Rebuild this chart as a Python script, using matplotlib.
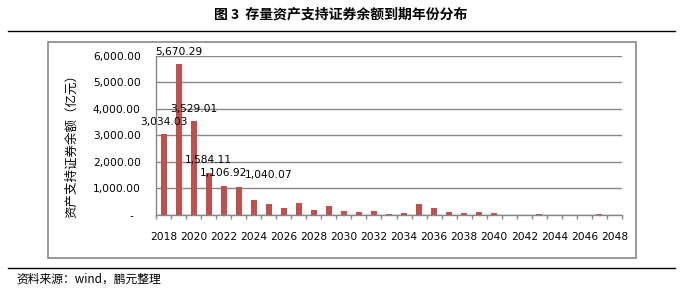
import matplotlib.pyplot as plt
import matplotlib as mpl
from matplotlib.ticker import FixedLocator, FuncFormatter
from matplotlib.lines import Line2D
from matplotlib.patches import Rectangle

mpl.rcParams['font.family'] = ['DejaVu Sans', 'Noto Sans CJK SC']

# maturity years and outstanding ABS balance (100m CNY)
years = list(range(2018, 2049))
balance = [3034.03, 5670.29, 3529.01, 1584.11, 1106.92, 1040.07, 565, 400, 276, 464,
           188, 351, 150, 113, 150, 50, 75, 414, 263, 113,
           75, 113, 75, 0, 0, 38, 0, 0, 0, 38, 0]
labelled_years = [2018, 2019, 2020, 2021, 2022, 2023]
yticks = [0, 1000, 2000, 3000, 4000, 5000, 6000]

title = '图 3  存量资产支持证券余额到期年份分布'
ylabel = '资产支持证券余额（亿元）'
source = '资料来源：wind，鹏元整理'

bar_color = '#C0504D'
grid_color = '#878787'

fig = plt.figure(figsize=(6.83, 2.88), dpi=100)
ax = fig.add_axes([156 / 683, 73 / 288, 466 / 683, 159.3 / 288])

x = list(range(len(years)))
ax.bar(x, balance, width=0.4, color=bar_color, zorder=3)

ax.set_xlim(-0.5, len(years) - 0.5)
ax.set_ylim(0, 6000)

# y axis
ax.set_yticks(yticks)
ax.yaxis.set_major_formatter(FuncFormatter(lambda v, p: '-  ' if v == 0 else f'{v:,.2f}'))
ax.tick_params(axis='y', length=0, pad=11, labelsize=7.7)
ax.grid(axis='y', color=grid_color, linewidth=1, zorder=0)

# x axis: labels every other year, tick marks at category borders
ax.set_xticks(x[::2])
ax.set_xticklabels([str(y) for y in years[::2]])
ax.xaxis.set_minor_locator(FixedLocator([i - 0.5 for i in range(len(years) + 1)]))
ax.tick_params(axis='x', which='major', length=0, pad=12, labelsize=7.7)
ax.tick_params(axis='x', which='minor', length=3, color=grid_color, width=1)

for s in ['top', 'right']:
    ax.spines[s].set_visible(False)
for s in ['left', 'bottom']:
    ax.spines[s].set_color(grid_color)
    ax.spines[s].set_linewidth(1)
    ax.spines[s].set_zorder(4)

# data labels; the 2023 label sits two categories to the right like in the source
for yr in labelled_years:
    i = years.index(yr)
    dx = 21.6 if yr == 2023 else 0
    ax.annotate(f'{balance[i]:,.2f}', xy=(i, balance[i]), xytext=(dx, 9),
                textcoords='offset points', ha='center', va='center',
                fontsize=7.7, annotation_clip=False, zorder=5)

fig.text(72 / 683, 1 - 143 / 288, ylabel, rotation=90, ha='center', va='center',
         fontsize=9, family=['Noto Sans CJK SC', 'DejaVu Sans'])

# chart frame
fig.add_artist(Rectangle((48 / 683, 1 - 258 / 288), 588 / 683, 216 / 288,
                         transform=fig.transFigure, fill=False,
                         edgecolor=grid_color, linewidth=1.2))

# title, rules and source
fig.text(341 / 683, 1 - 15 / 288, title, ha='center', va='center', fontsize=10,
         fontweight='bold', family=['Noto Sans CJK SC', 'DejaVu Sans'])
fig.add_artist(Line2D([8 / 683, 675 / 683], [1 - 31 / 288] * 2, transform=fig.transFigure,
                      color='black', linewidth=1))
fig.add_artist(Line2D([8 / 683, 675 / 683], [1 - 268 / 288] * 2, transform=fig.transFigure,
                      color='black', linewidth=1))
fig.text(16 / 683, 1 - 279 / 288, source, ha='left', va='center', fontsize=8.5,
         family=['Noto Sans CJK SC', 'DejaVu Sans'])

fig.savefig('out.png', dpi=100)
